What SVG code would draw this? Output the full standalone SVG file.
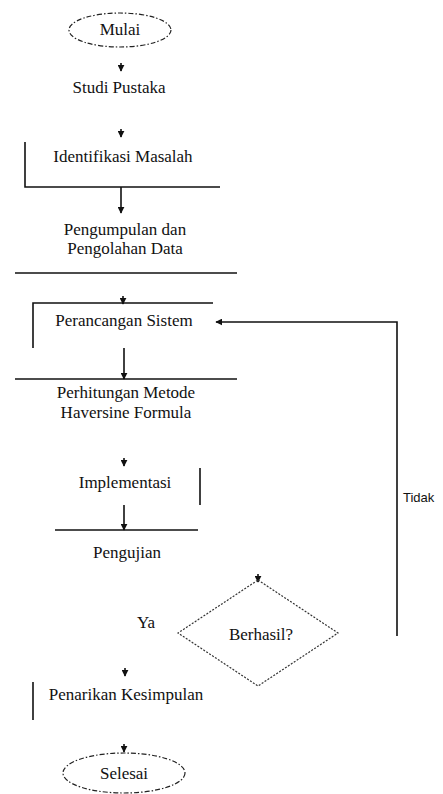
<svg xmlns="http://www.w3.org/2000/svg" width="443" height="794" viewBox="0 0 443 794">
<style>
.t{font-family:"Liberation Serif","Times New Roman",serif;font-size:17px;fill:#111;text-anchor:middle}
.ln{stroke:#111;stroke-width:1.6;fill:none}
.dash{stroke:#222;stroke-width:1.2;fill:none;stroke-dasharray:5 2 1.5 2}
.dot{stroke:#333;stroke-width:1.2;fill:none;stroke-dasharray:2 1.5}
</style>
<defs>
<marker id="ah" viewBox="0 0 10 10" refX="9" refY="5" markerWidth="7" markerHeight="7" markerUnits="userSpaceOnUse" orient="auto">
<path d="M0,0 L10,5 L0,10 z" fill="#111"/>
</marker>
</defs>
<rect width="443" height="794" fill="#fff"/>
<g id="connectors">
<path class="ln" d="M121,63 V71" marker-end="url(#ah)"/>
<path class="ln" d="M121,129 V137" marker-end="url(#ah)"/>
<path class="ln" d="M121,187 V213" marker-end="url(#ah)"/>
<path class="ln" d="M123,296 V304" marker-end="url(#ah)"/>
<path class="ln" d="M124,348 V379" marker-end="url(#ah)"/>
<path class="ln" d="M124,458 V466" marker-end="url(#ah)"/>
<path class="ln" d="M124,505 V530" marker-end="url(#ah)"/>
<path class="ln" d="M258,574 V582" marker-end="url(#ah)"/>
<path class="ln" d="M397,636 V322 H216" marker-end="url(#ah)"/>
<path class="ln" d="M125,668 V676" marker-end="url(#ah)"/>
<path class="ln" d="M124,744 V752" marker-end="url(#ah)"/>
</g>
<g id="mulai">
<ellipse class="dash" cx="120" cy="30" rx="51" ry="17"/>
<text class="t" x="120" y="35" font-size="15">Mulai</text>
</g>
<g id="studi-pustaka">
<text class="t" x="119" y="93">Studi Pustaka</text>
</g>
<g id="identifikasi-masalah">
<path class="ln" d="M25,142 V187 H220"/>
<text class="t" x="123" y="162">Identifikasi Masalah</text>
</g>
<g id="pengumpulan-data">
<text class="t" x="125" y="235">Pengumpulan dan</text>
<text class="t" x="125" y="254">Pengolahan Data</text>
<path class="ln" d="M15,273 H237"/>
</g>
<g id="perancangan-sistem">
<path class="ln" d="M33,348 V303 H213"/>
<text class="t" x="124" y="326">Perancangan Sistem</text>
</g>
<g id="perhitungan-metode">
<path class="ln" d="M15,379 H237"/>
<text class="t" x="126" y="398">Perhitungan Metode</text>
<text class="t" x="126" y="418">Haversine Formula</text>
</g>
<g id="implementasi">
<text class="t" x="125" y="488">Implementasi</text>
<path class="ln" d="M200,468 V505"/>
</g>
<g id="pengujian">
<path class="ln" d="M55,530 H198"/>
<text class="t" x="127" y="558" font-size="15">Pengujian</text>
</g>
<g id="berhasil">
<polygon class="dot" points="258,580 338,633 258,686 178,633"/>
<text class="t" x="261" y="640">Berhasil?</text>
</g>
<g id="label-ya">
<text class="t" x="146" y="628" font-size="15">Ya</text>
</g>
<g id="label-tidak">
<text x="403" y="502" font-family="Liberation Sans, Arial, sans-serif" font-size="13" fill="#111">Tidak</text>
</g>
<g id="penarikan-kesimpulan">
<path class="ln" d="M33,682 V720"/>
<text class="t" x="126" y="700">Penarikan Kesimpulan</text>
</g>
<g id="selesai">
<ellipse class="dash" cx="124" cy="773" rx="61" ry="20"/>
<text class="t" x="124" y="779" font-size="15">Selesai</text>
</g>
</svg>
